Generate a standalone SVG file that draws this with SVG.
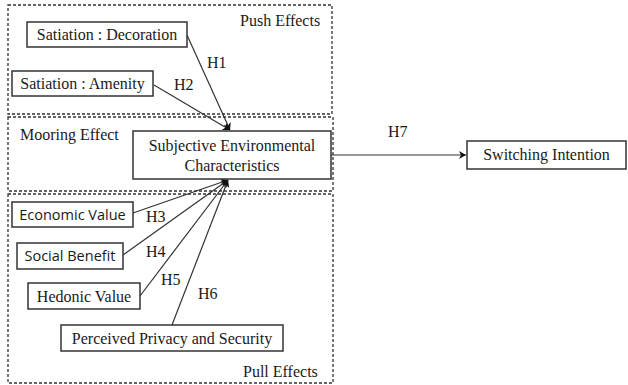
<svg xmlns="http://www.w3.org/2000/svg" width="628" height="385" viewBox="0 0 628 385">
<style>
.grp{fill:none;stroke:#333;stroke-width:1.3;stroke-dasharray:3,2}
.box{fill:#fff;stroke:#333;stroke-width:1.5}
.t{font-family:"Liberation Serif","Times New Roman",serif;font-size:16px;fill:#1a1a1a}
.s{font-family:"Open Sans","Liberation Sans",sans-serif;font-size:14.5px;fill:#1a1a1a}
.c{stroke:#333;stroke-width:1.2;fill:none}
</style>
<defs>
<marker id="ah" markerWidth="8" markerHeight="8" refX="7" refY="4" orient="auto" markerUnits="userSpaceOnUse">
<path d="M0,0 L7,4 L0,8 L2,4 Z" fill="#111"/>
</marker>
</defs>
<g id="groups">
<rect class="grp" x="8" y="5" width="324" height="109"/>
<rect class="grp" x="8" y="117" width="325" height="74"/>
<rect class="grp" x="8" y="194" width="325" height="189"/>
<text class="t" x="240" y="26">Push Effects</text>
<text class="t" x="20" y="140">Mooring Effect</text>
<text class="t" x="243" y="377">Pull Effects</text>
</g>
<g id="connectors">
<line class="c" x1="187" y1="35" x2="230" y2="130" marker-end="url(#ah)"/>
<line class="c" x1="154" y1="85" x2="230" y2="130" marker-end="url(#ah)"/>
<line class="c" x1="133" y1="213" x2="228" y2="180" marker-end="url(#ah)"/>
<line class="c" x1="123" y1="255" x2="228" y2="180" marker-end="url(#ah)"/>
<line class="c" x1="140" y1="296" x2="228" y2="180" marker-end="url(#ah)"/>
<line class="c" x1="172" y1="325" x2="228" y2="180" marker-end="url(#ah)"/>
<line class="c" x1="331" y1="155" x2="466" y2="155" marker-end="url(#ah)"/>
<text class="t" x="207" y="68">H1</text>
<text class="t" x="174" y="90">H2</text>
<text class="t" x="146" y="222">H3</text>
<text class="t" x="146" y="257">H4</text>
<text class="t" x="161" y="285">H5</text>
<text class="t" x="198" y="299">H6</text>
<text class="t" x="388" y="137">H7</text>
</g>
<g id="n-decoration">
<rect class="box" x="27" y="22" width="160" height="25"/>
<text class="t" x="107" y="40" text-anchor="middle">Satiation : Decoration</text>
</g>
<g id="n-amenity">
<rect class="box" x="12" y="71" width="141" height="25"/>
<text class="t" x="82.5" y="89" text-anchor="middle">Satiation : Amenity</text>
</g>
<g id="n-sec">
<rect class="box" x="133" y="131" width="198" height="48"/>
<text class="t" x="232" y="151" text-anchor="middle">Subjective Environmental</text>
<text class="t" x="232" y="171" text-anchor="middle">Characteristics</text>
</g>
<g id="n-switching">
<rect class="box" x="467" y="141" width="159" height="28"/>
<text class="t" x="546.5" y="160" text-anchor="middle">Switching Intention</text>
</g>
<g id="n-economic">
<rect class="box" x="12" y="202" width="121" height="25"/>
<text class="s" x="72.5" y="220" text-anchor="middle">Economic Value</text>
</g>
<g id="n-social">
<rect class="box" x="17" y="243" width="106" height="26"/>
<text class="s" x="70" y="261" text-anchor="middle">Social Benefit</text>
</g>
<g id="n-hedonic">
<rect class="box" x="28" y="283" width="112" height="26"/>
<text class="t" x="84" y="302" text-anchor="middle">Hedonic Value</text>
</g>
<g id="n-privacy">
<rect class="box" x="61" y="325" width="222" height="26"/>
<text class="t" x="172" y="344" text-anchor="middle">Perceived Privacy and Security</text>
</g>
</svg>
